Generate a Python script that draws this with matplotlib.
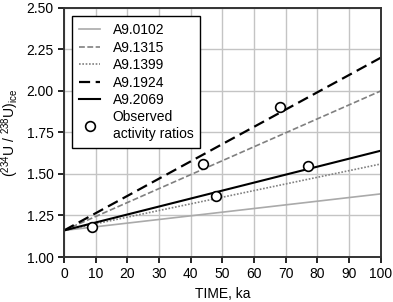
import numpy as np
from matplotlib import pyplot as plt

plt.rcParams['font.family'] = ['Liberation Sans', 'DejaVu Sans']
plt.rcParams['mathtext.fontset'] = 'custom'
plt.rcParams['mathtext.rm'] = 'Liberation Sans'
plt.rcParams['mathtext.it'] = 'Liberation Sans'

samples = ['A9.0102', 'A9.1315', 'A9.1399', 'A9.1924', 'A9.2069']
start_ratio = 1.16
end_ratio = [1.38, 2.00, 1.56, 2.20, 1.64]
t_range = [0, 100]

obs_t = [8.8, 43.8, 48.0, 68.1, 76.9]
obs_ratio = [1.18, 1.56, 1.37, 1.905, 1.545]

styles = [
    dict(color='#aaaaaa', linestyle='-', linewidth=1.2),
    dict(color='#808080', linestyle=(0, (3.5, 1.5)), linewidth=1.2),
    dict(color='#808080', linestyle=(0, (1, 1)), linewidth=1.2),
    dict(color='black', linestyle=(0, (5, 2.5)), linewidth=1.6),
    dict(color='black', linestyle='-', linewidth=1.5),
]

fig = plt.figure(figsize=(3.93, 3.02), dpi=100)
ax = fig.add_axes([0.163, 0.149, 0.806, 0.825])

for name, end, st in zip(samples, end_ratio, styles):
    ax.plot(t_range, [start_ratio, end], label=name, **st)

ax.plot(obs_t, obs_ratio, 'o', markersize=7, markerfacecolor='white',
        markeredgecolor='black', markeredgewidth=1.2, linestyle='none',
        label='Observed\nactivity ratios')

ax.set_xlim(0, 100)
ax.set_ylim(1.0, 2.5)
ax.set_xticks(np.arange(0, 101, 10))
ax.set_yticks(np.arange(1.0, 2.51, 0.25))
ax.set_yticklabels(['%.2f' % v for v in np.arange(1.0, 2.51, 0.25)])
ax.grid(True, color='#c4c4c4', linewidth=1.0)
ax.set_axisbelow(True)
ax.tick_params(labelsize=10, length=4, width=1.2, colors='black')
for s in ax.spines.values():
    s.set_linewidth(1.4)
    s.set_color('#333333')

ax.set_xlabel('TIME, ka', fontsize=10)
ax.set_ylabel(r'($^{234}$U / $^{238}$U)$_{\rm ice}$', fontsize=10)

leg = ax.legend(loc='upper left', fontsize=10, frameon=True, fancybox=False,
                handlelength=1.5, handletextpad=0.9, borderpad=0.5,
                labelspacing=0.25, borderaxespad=0.6,
                edgecolor='black', framealpha=1)
leg.get_frame().set_linewidth(1.0)

fig.savefig('out.png', dpi=100)
